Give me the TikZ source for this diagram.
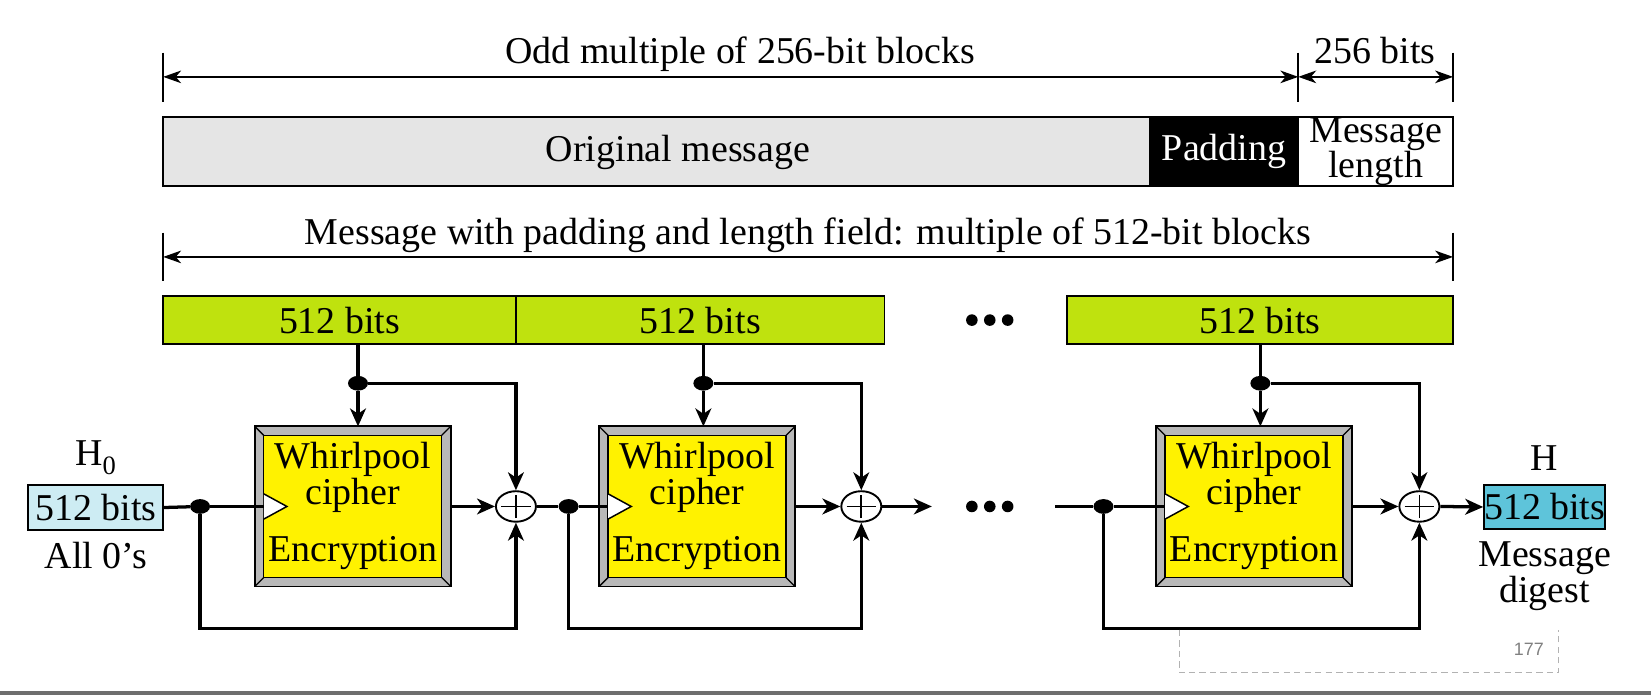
\documentclass[tikz,border=0pt]{standalone}
\usepackage{fontspec}
\setmainfont{Liberation Serif}
\newfontfamily\pagenofont{Liberation Sans}
\usetikzlibrary{arrows.meta,positioning,shapes.geometric}

\definecolor{msggray}{RGB}{229,229,229}
\definecolor{chunkgreen}{RGB}{191,226,14}
\definecolor{ivlight}{RGB}{205,236,243}
\definecolor{digestblue}{RGB}{94,196,218}
\definecolor{framegray}{RGB}{184,184,184}
\definecolor{footgray}{RGB}{110,110,110}

\begin{document}
\begin{tikzpicture}[x=1pt,y=-1pt,
    font=\fontsize{36}{30}\selectfont,
    field/.style={draw,line width=1.8pt,minimum height=66pt,inner sep=0pt,align=center},
    chunk/.style={draw,line width=1.8pt,fill=chunkgreen,minimum height=46pt,inner sep=0pt},
    hashbox/.style={draw,line width=1.8pt,minimum height=42pt,inner sep=0pt},
    cipher/.style={draw,line width=1.8pt,fill=framegray,minimum width=186pt,minimum height=152pt,inner sep=0pt,outer sep=0pt},
    xorop/.style={ellipse,draw,line width=1.8pt,fill=white,minimum width=38pt,minimum height=29pt,inner sep=0pt,
      path picture={\draw[line width=1.6pt]
        ([xshift=-14pt]path picture bounding box.center) -- ([xshift=14pt]path picture bounding box.center)
        ([yshift=-11pt]path picture bounding box.center) -- ([yshift=11pt]path picture bounding box.center);}},
    joint/.style={ellipse,fill,minimum width=19pt,minimum height=14pt,inner sep=0pt},
    wire/.style={line width=3.1pt},
    feed/.style={wire,-{Stealth[length=17pt,width=15pt,inset=5pt]}},
    dimline/.style={line width=1.5pt,{Stealth[length=17pt,width=12pt,inset=5pt]}-{Stealth[length=17pt,width=12pt,inset=5pt]}},
    tickline/.style={line width=1.5pt},
  ]
  \useasboundingbox (0,0) rectangle (1568,660);

  % sizes over the message
  \coordinate (a0) at (155,73);
  \coordinate (a1) at (1233,73);
  \coordinate (a2) at (1380,73);
  \foreach \t in {a0,a1,a2}
    \draw[tickline] (\t) ++(0,-23) -- ++(0,47);
  \draw[dimline] (a0) -- (a1);
  \draw[dimline] (a1) -- (a2);
  \node[anchor=base] (oddlbl) at (703,60) {Odd multiple of 256-bit blocks};
  \node[anchor=base] (lenlbl) at (1306,60) {256 bits};

  % message layout
  \node[field,fill=msggray,minimum width=937pt] (orig) at (623.5,144) {};
  \node (origlbl) at (644,145) {Original message};
  \node[field,fill=black,text=white,minimum width=141pt] (pad) at (1162.5,144) {Padding};
  \node[field,fill=white,minimum width=147pt] (mlen) at (1306.5,144) {Message\\length};

  \coordinate (b0) at (155,244);
  \coordinate (b1) at (1380,244);
  \foreach \t in {b0,b1}
    \draw[tickline] (\t) ++(0,-23) -- ++(0,46);
  \draw[dimline] (b0) -- (b1);
  \node[anchor=base] (fulllbl) at (767.5,232) {Message with padding and length field: multiple of 512-bit blocks};

  % 512-bit blocks
  \node[chunk,minimum width=335pt] (m1) at (322.5,304) {512 bits};
  \node[chunk,minimum width=350pt] (m2) at (665,304) {512 bits};
  \node[chunk,minimum width=367pt] (m3) at (1196.5,304) {512 bits};
  \foreach \dx in {-17,0,17}{
    \fill (940+\dx,304) circle (5.5);
    \fill (940+\dx,481) circle (5.5);
  }

  % cipher stages
  \foreach \i/\cx in {1/335,2/662,3/1191}{
    \node[cipher] (c\i) at (\cx,481) {};
    \draw[line width=1.2pt,fill=yellow] ([shift={(8.5,8.5)}]c\i.north west) rectangle ([shift={(-8.5,-8.5)}]c\i.south east);
    \draw[line width=1.2pt] (c\i.north west) -- ++(8.5,8.5) (c\i.north east) -- ++(-8.5,8.5)
      (c\i.south west) -- ++(8.5,-8.5) (c\i.south east) -- ++(-8.5,-8.5);
    \draw[line width=1.4pt,fill=white] ([shift={(8.5,-12)}]c\i.west) -- ++(22,12) -- ++(-22,12);
    \node[anchor=north,align=center,inner sep=0pt] (w\i) at ([yshift=-15pt]c\i.north) {Whirlpool\\cipher};
    \node[anchor=south,inner sep=0pt] (e\i) at ([yshift=16pt]c\i.south) {Encryption};
  }

  \foreach \i/\sx/\xx/\dx in {1/340/490/190,2/668/818/540,3/1197/1348/1048}{
    \node[joint] (j\i) at (\sx,364) {};
    \node[xorop] (x\i) at (\xx,481) {};
    \node[joint] (d\i) at (\dx,481) {};
    \draw[wire] (m\i.south -| j\i) -- (j\i);
    \draw[feed] (j\i) -- (j\i |- c\i.north);
    \draw[feed] (j\i) -| (x\i.north);
    \draw[feed] (c\i.east) -- (x\i.west);
    \draw[wire] (d\i) -- ([xshift=8.5pt]c\i.west);
    \draw[feed] (d\i) -- ++(0,116) -| (x\i.south);
  }

  % chaining values
  \node[hashbox,fill=ivlight,minimum width=128pt] (h0) at (91,482) {512 bits};
  \node[above=9pt of h0,inner sep=0pt] (h0lbl) {H\textsubscript{0}};
  \node[below=11pt of h0,inner sep=0pt] (zerolbl) {All 0's};
  \node[hashbox,fill=digestblue,minimum width=106pt] (hout) at (1467,481.5) {512 bits};
  \node[above=13pt of hout,inner sep=0pt] (houtlbl) {H};
  \node[below=11pt of hout,inner sep=0pt,align=center,font=\fontsize{36}{26}\selectfont] (digestlbl) {Message\\digest};

  \coordinate (gapin) at (885,481);
  \coordinate (gapout) at (1002,481);
  \draw[wire] (h0.east) -- (d1);
  \draw[wire] (x1.east) -- (d2);
  \draw[feed] (x2.east) -- (gapin);
  \draw[wire] (gapout) -- (d3);
  \draw[feed] (x3.east) -- (hout.west);

  % slide page number and footer
  \draw[gray!60,line width=1.2pt,dash pattern=on 6pt off 4pt] (1120,598) -- (1120,639) -- (1480,639) -- (1480,598);
  \node[text=gray,font=\pagenofont\fontsize{17}{20}\selectfont] (pageno) at (1452,617) {177};
  \fill[footgray] (0,656) rectangle (1568,660);
\end{tikzpicture}
\end{document}
